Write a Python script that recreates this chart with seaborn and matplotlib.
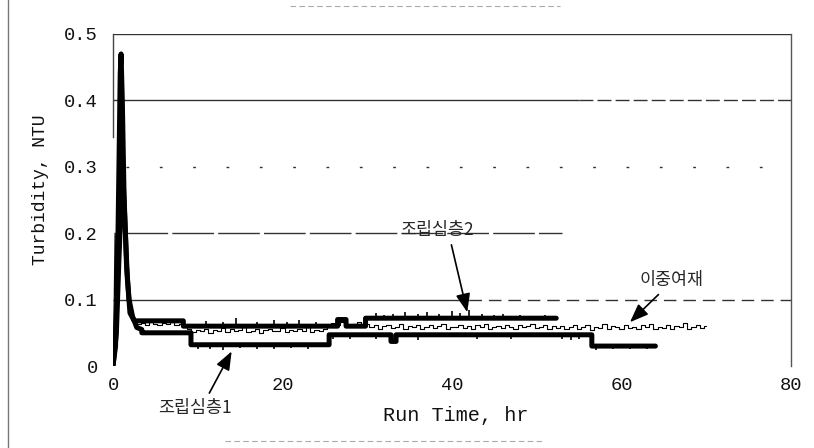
import numpy as np
import pandas as pd
import matplotlib
matplotlib.use("Agg")
import matplotlib.pyplot as plt
from matplotlib.lines import Line2D
import seaborn as sns

# ---------------- data ----------------
# 조립심층1 (coarse deep bed 1)
s1_time = [0.0, 0.3, 0.5, 0.7, 0.85, 0.95, 1.1, 1.3, 1.6, 1.9, 2.3, 2.8, 3.4, 3.4,
           9.2, 9.2, 25.5, 25.5, 32.8, 32.8, 33.4, 33.4, 56.5, 56.5, 64.0]
s1_val = [0.0, 0.03, 0.12, 0.30, 0.44, 0.47, 0.40, 0.26, 0.15, 0.10, 0.075, 0.058, 0.055, 0.050,
          0.050, 0.032, 0.032, 0.047, 0.047, 0.037, 0.037, 0.047, 0.047, 0.030, 0.030]

# 조립심층2 (coarse deep bed 2)
s2_time = [0.0, 0.4, 0.7, 1.0, 1.2, 1.4, 1.7, 2.0, 2.5, 8.3, 8.3, 26.5, 26.5, 27.5, 27.5,
           29.8, 29.8, 52.3]
s2_val = [0.0, 0.05, 0.16, 0.26, 0.28, 0.22, 0.13, 0.08, 0.068, 0.068, 0.060, 0.060, 0.070,
          0.070, 0.060, 0.060, 0.072, 0.072]

# 이중여재 (dual media) : early peak + half-hour samples afterwards
dual_peak_time = [0.0, 0.15, 0.25, 0.35, 0.5, 0.8, 1.1, 1.4, 1.8, 2.2]
dual_peak_val = [0.0, 0.10, 0.20, 0.12, 0.09, 0.15, 0.25, 0.18, 0.10, 0.07]
dual_start, dual_step = 2.5, 0.5
dual_val = [
    0.066, 0.063, 0.065, 0.062, 0.066, 0.064, 0.061, 0.065, 0.063, 0.066, 0.062, 0.064, 0.060,
    0.055, 0.051, 0.054, 0.052, 0.056, 0.050, 0.054, 0.053, 0.057, 0.051, 0.055, 0.052, 0.054,
    0.058, 0.051, 0.053, 0.055, 0.050, 0.054, 0.056, 0.052, 0.053, 0.057, 0.051, 0.054, 0.052,
    0.055, 0.053, 0.058, 0.051, 0.054, 0.052, 0.056,
    0.062, 0.065, 0.061, 0.066, 0.063, 0.060, 0.064, 0.067, 0.062, 0.064,
    0.058, 0.061, 0.056, 0.060, 0.062, 0.057, 0.059, 0.063, 0.056, 0.060, 0.058, 0.062, 0.055,
    0.059, 0.061, 0.057, 0.060, 0.064, 0.056, 0.059, 0.058, 0.062, 0.057, 0.060, 0.055, 0.061,
    0.059, 0.063, 0.056, 0.058, 0.060, 0.057, 0.062, 0.059, 0.056, 0.061, 0.058, 0.060, 0.063,
    0.057, 0.059, 0.061, 0.056, 0.060,
    0.057, 0.060, 0.055, 0.059, 0.062, 0.056, 0.058, 0.061, 0.054, 0.059, 0.057, 0.063, 0.055,
    0.060, 0.058, 0.056, 0.062, 0.057, 0.059, 0.055, 0.061, 0.058, 0.064, 0.056, 0.059, 0.057,
    0.062, 0.055, 0.060, 0.058, 0.065, 0.056, 0.059, 0.061, 0.057, 0.060,
]

# small spikes on the thick records
s2_spike_x = [11, 13, 14.5, 17, 19, 20.5, 22, 24, 31, 32, 33, 34.5, 36, 37, 38.5, 40, 41, 42, 43.5,
              45, 46, 48, 50, 51]
s2_spike_lo = [0.060, 0.060, 0.060, 0.060, 0.060, 0.060, 0.060, 0.060, 0.072, 0.072, 0.072, 0.072,
               0.072, 0.072, 0.072, 0.072, 0.072, 0.072, 0.072, 0.072, 0.072, 0.072, 0.072, 0.072]
s2_spike_hi = [0.068, 0.066, 0.072, 0.067, 0.069, 0.066, 0.070, 0.067, 0.080, 0.077, 0.078, 0.082,
               0.079, 0.081, 0.078, 0.083, 0.080, 0.084, 0.079, 0.077, 0.078, 0.077, 0.076, 0.077]
s1_spike_x = [10, 11.5, 13, 15, 17, 19, 21, 23, 26, 28, 31, 36, 43, 47, 53, 54, 55, 57, 59, 61, 63]
s1_spike_lo = [0.025, 0.026, 0.024, 0.027, 0.025, 0.026, 0.027, 0.025, 0.040, 0.041, 0.040, 0.039,
               0.041, 0.040, 0.040, 0.039, 0.041, 0.024, 0.025, 0.026, 0.025]
s1_spike_hi = [0.032, 0.032, 0.032, 0.032, 0.032, 0.032, 0.032, 0.032, 0.047, 0.047, 0.047, 0.047,
               0.047, 0.047, 0.047, 0.047, 0.047, 0.030, 0.030, 0.030, 0.030]

y_ticks = [0, 0.1, 0.2, 0.3, 0.4, 0.5]
y_tick_labels = ["0", "0.1", "0.2", "0.3", "0.4", "0.5"]
x_ticks = [0, 20, 40, 60, 80]
x_tick_labels = ["0", "20", "40", "60", "80"]

label_s1 = "조립심층1"
label_s2 = "조립심층2"
label_dual = "이중여재"

# ---------------- figure ----------------
sns.set_style("white")
plt.rcParams["font.family"] = ["Liberation Mono", "DejaVu Sans Mono"]
kfont = ["Noto Sans CJK KR", "DejaVu Sans"]

W, H = 814, 448
fig = plt.figure(figsize=(W / 100, H / 100), dpi=100)
ax = fig.add_axes([113 / W, 1 - 366 / H, (791 - 113) / W, (366 - 34) / H])

# grid lines (scanned look: partly broken)
gcol = "#333333"
ax.hlines(0.5, 0, 80, color=gcol, lw=1.0)
ax.hlines(0.4, 0, 55, color=gcol, lw=1.0)
ax.hlines(0.4, 55, 80, color=gcol, lw=1.0, linestyles=(0, (10, 3)))
ax.hlines(0.3, 1.5, 80, color=gcol, lw=1.0, linestyles=(0, (2, 22)))
ax.hlines(0.2, 1.5, 53, color=gcol, lw=1.0, linestyles=(0, (30, 3)))
ax.hlines(0.1, 0, 42, color=gcol, lw=1.0)
ax.hlines(0.1, 42, 80, color=gcol, lw=1.0, linestyles=(0, (9, 5)))

# dual media thin noisy record
dual_time = np.concatenate([dual_peak_time, dual_start + dual_step * np.arange(len(dual_val))])
dual_all = np.concatenate([dual_peak_val, dual_val])
df_dual = pd.DataFrame({"t": dual_time, "v": dual_all})
sns.lineplot(data=df_dual.iloc[:len(dual_peak_val) + 1], x="t", y="v", estimator=None, sort=False,
             color="black", lw=0.9, ax=ax)
sns.lineplot(data=df_dual.iloc[len(dual_peak_val):], x="t", y="v", estimator=None, sort=False,
             color="black", lw=0.8, drawstyle="steps-mid", ax=ax)

df1 = pd.DataFrame({"t": s1_time, "v": s1_val})
df2 = pd.DataFrame({"t": s2_time, "v": s2_val})
sns.lineplot(data=df2, x="t", y="v", estimator=None, sort=False, color="black", lw=3.6, ax=ax)
sns.lineplot(data=df1, x="t", y="v", estimator=None, sort=False, color="black", lw=3.6, ax=ax)

ax.vlines(s2_spike_x, s2_spike_lo, s2_spike_hi, color="black", lw=1.2)
ax.vlines(s1_spike_x, s1_spike_lo, s1_spike_hi, color="black", lw=1.2)

ax.set_xlim(0, 80)
ax.set_ylim(0, 0.5)
ax.set_xticks(x_ticks)
ax.set_xticklabels(x_tick_labels)
ax.set_yticks(y_ticks)
ax.set_yticklabels(y_tick_labels)
ax.tick_params(axis="both", length=0, labelsize=13.5, colors="#111111")
ax.tick_params(axis="y", pad=11)
ax.tick_params(axis="x", pad=8)

ax.set_xlabel("Run Time, hr", fontsize=14.5, color="#111111")
ax.set_ylabel("Turbidity, NTU", fontsize=13, color="#111111")
ax.xaxis.set_label_coords(0.505, -0.12)
ax.yaxis.set_label_coords(-0.095, 0.53)

for side in ["top", "bottom"]:
    ax.spines[side].set_visible(False)
ax.spines["left"].set_bounds(0.345, 0.5)
ax.spines["left"].set_color("#444444")
ax.spines["left"].set_linewidth(1.0)
ax.spines["right"].set_color("#555555")
ax.spines["right"].set_linewidth(1.0)

# annotations
arrow = dict(arrowstyle="-|>,head_length=0.9,head_width=0.35", color="black", lw=1.2,
             shrinkA=2, shrinkB=0)
ax.annotate(label_s2, xy=(41.8, 0.081), xytext=(38.2, 0.205), fontsize=12.5, family=kfont,
            ha="center", va="center", arrowprops=dict(arrow, relpos=(0.68, 0.0)))
ax.annotate(label_dual, xy=(61.0, 0.066), xytext=(65.9, 0.129), fontsize=12.5, family=kfont,
            ha="center", va="center", arrowprops=dict(arrow, relpos=(0.38, 0.0)))
ax.annotate(label_s1, xy=(14.0, 0.022), xytext=(9.7, -0.063), fontsize=12.5, family=kfont,
            ha="center", va="center", annotation_clip=False,
            arrowprops=dict(arrow, relpos=(0.65, 1.0)))

# scan-frame remnants
fig.add_artist(Line2D([8 / W, 8 / W], [0, 1], color="#777777", lw=1.0))
fig.add_artist(Line2D([290 / W, 560 / W], [1 - 6 / H] * 2, color="#aaaaaa", lw=0.8,
                      linestyle=(0, (5, 3))))
fig.add_artist(Line2D([225 / W, 545 / W], [1 - 441 / H] * 2, color="#aaaaaa", lw=0.8,
                      linestyle=(0, (5, 3))))

fig.savefig("out.png", dpi=100, facecolor="white")
